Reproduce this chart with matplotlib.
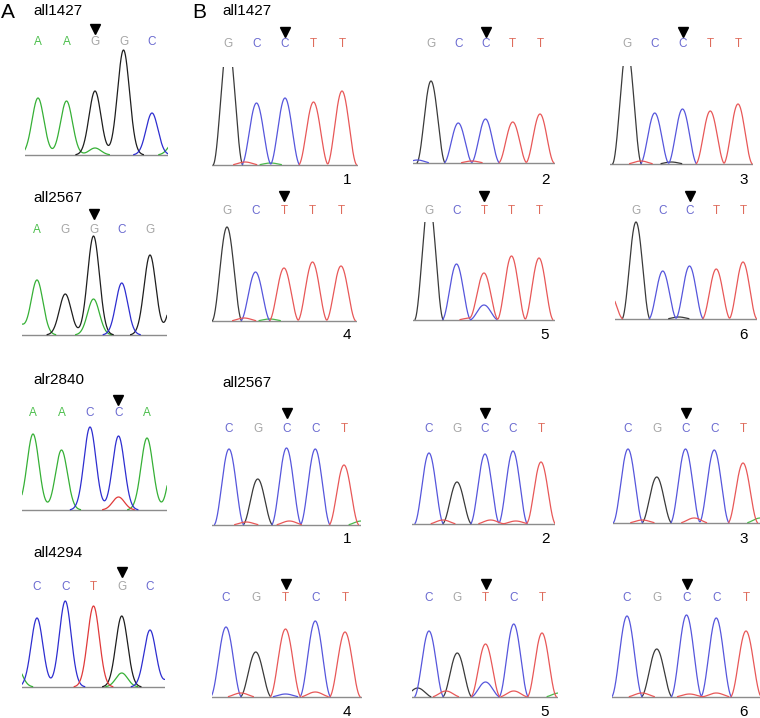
import numpy as np
import matplotlib
matplotlib.use("Agg")
import matplotlib.pyplot as plt
from matplotlib.transforms import blended_transform_factory

plt.rcParams['font.family'] = ['Liberation Sans', 'DejaVu Sans']

W, H = 760, 718

# colours of the traces and of the base letters
a_trace_col = {"A": "#36b036", "C": "#2e2ed0", "G": "#1e1e1e", "T": "#e03a3a"}
b_trace_col = {"A": "#4cb84c", "C": "#5656dc", "G": "#3a3a3a", "T": "#e85858"}
letter_col = {"A": "#4cbf4c", "C": "#6a6ad0", "G": "#a6a6a6", "T": "#de6c5c"}

# ---- panel A : wild type reads ----
a_genes = ["all1427", "all2567", "alr2840", "all4294"]
a_seqs = ["AAGGC", "AGGCG", "AACCA", "CCTGC"]
a_heights = [[57, 54, 64, 105, 42],
             [55, 41, 99, 52, 80],
             [76, 60, 83, 74, 72],
             [69, 86, 81, 71, 57]]
# small extra peaks (position, base, height)
a_minor = [[(2, "A", 7), (4.8, "A", 14)],
           [(2, "A", 36), (-0.7, "A", 12), (4.9, "G", 50)],
           [(3, "T", 13), (5, "A", 65), (-0.8, "A", 10)],
           [(3, "A", 14), (-0.75, "A", 22), (4.8, "C", 12)]]
a_snp = [2, 2, 3, 3]

# ---- panel B : the six samples ----
b_genes = ["all1427", "all2567"]
b_samples = ["1", "2", "3", "4", "5", "6"]

b1427_seqs = ["GCCTT", "GCCTT", "GCCTT", "GCTTT", "GCTTT", "GCCTT"]
b1427_heights = [[125, 62, 67, 63, 74],
                 [82, 40, 44, 41, 49],
                 [117, 51, 55, 53, 60],
                 [94, 49, 53, 59, 55],
                 [120, 56, 47, 64, 62],
                 [97, 48, 53, 50, 57]]
b1427_minor = [[(0.6, "T", 3), (1.5, "A", 2)],
               [(-0.5, "C", 3), (1.5, "T", 2)],
               [(0.5, "T", 3), (1.6, "G", 2)],
               [(0.6, "T", 3), (1.5, "A", 2)],
               [(2, "C", 15), (1.5, "T", 2)],
               [(-1, "T", 27), (1.6, "G", 2)]]

b2567_seqs = ["CGCCT", "CGCCT", "CGCCT", "CGTCT", "CGTCT", "CGCCT"]
b2567_heights = [[76, 46, 77, 76, 60],
                 [71, 42, 70, 73, 62],
                 [74, 46, 74, 73, 60],
                 [70, 45, 68, 76, 65],
                 [66, 44, 53, 73, 64],
                 [81, 48, 82, 79, 66]]
b2567_minor = [[(0.6, "T", 3), (2.1, "T", 4), (4.6, "A", 4)],
               [(0.5, "T", 4), (2.2, "T", 4), (3.1, "T", 3)],
               [(0.5, "T", 3), (2.3, "T", 5), (4.6, "A", 5)],
               [(0.5, "T", 4), (2.0, "C", 3), (3.0, "T", 5)],
               [(2, "C", 15), (-0.4, "G", 9), (0.6, "T", 6), (3, "T", 6), (4.6, "A", 4)],
               [(0.5, "T", 4), (2.1, "T", 3), (3.0, "T", 4)]]
b_snp = 2

fig = plt.figure(figsize=(W / 100, H / 100), dpi=100)


def fx(x):
    return x / W


def fy(y):
    return 1 - y / H


def peak(t, p, h, width, kind):
    # gaussian for panel A, raised cosine (touches the baseline) for panel B
    if kind == "gauss":
        return h * np.exp(-(t - p) ** 2 / (2 * width ** 2))
    d = np.abs(t - p)
    return np.where(d < width, h * np.cos(np.pi * d / (2 * width)) ** 2, 0.0)


def chromatogram(x_left, x_right, x0, x4, base, top_h, seq, heights, minor,
                 width, kind, cols, letter_y, arrow_y, snp):
    step = (x4 - x0) / 4
    ax = fig.add_axes([fx(x_left), fy(base + 2), fx(x_right - x_left), (top_h + 2) / H])
    lo = (x_left - x0) / step
    hi = (x_right - x0) / step
    t = np.linspace(lo, hi, 800)
    peaks = [(i, b, h) for i, (b, h) in enumerate(zip(seq, heights))] + list(minor)
    ax.plot([lo, hi], [0, 0], color="#8c8c8c", lw=1.0)
    for b in "AGCT":
        y = np.zeros_like(t)
        for p, bb, h in peaks:
            if bb == b:
                y += peak(t, p, h, width, kind)
        if y.max() == 0:
            continue
        y[y < 0.4] = np.nan
        ax.plot(t, y, color=cols[b], lw=0.9)
    ax.set_xlim(lo, hi)
    ax.set_ylim(-2, top_h)
    ax.axis('off')
    tr = blended_transform_factory(ax.transData, fig.transFigure)
    for i, b in enumerate(seq):
        ax.text(i, fy(letter_y), b, transform=tr, ha='center', va='center',
                color=letter_col[b], fontsize=8.5)
    ax.plot(snp, fy(arrow_y), marker='v', color='k', ms=7, transform=tr, clip_on=False)
    return ax


# panel A layout
a_left = [25, 22, 22, 22]
a_right = [168, 167, 167, 165]
a_x0 = [38, 37, 33, 37]
a_x4 = [152, 150, 147, 150]
a_base = [155, 335, 510, 687]
a_letter_y = [42, 230, 413, 587]
a_arrow_y = [29, 214, 400, 572]
a_label_y = [11, 198, 380, 553]

for k in range(4):
    chromatogram(a_left[k], a_right[k], a_x0[k], a_x4[k], a_base[k], 112,
                 a_seqs[k], a_heights[k], a_minor[k], 0.21, "gauss", a_trace_col,
                 a_letter_y[k], a_arrow_y[k], a_snp[k])
    fig.text(fx(33), fy(a_label_y[k]), a_genes[k], fontsize=11, va='center', ha='left')

# panel B layout (4 rows x 3 columns)
b_left = [[212, 413, 610], [212, 413, 615], [212, 412, 613], [212, 412, 612]]
b_right = [[358, 555, 753], [357, 555, 757], [361, 555, 760], [362, 558, 760]]
b_x0 = [[228, 431, 627], [227, 429, 636], [229, 429, 628], [226, 429, 627]]
b_x4 = [[342, 540, 738], [341, 539, 743], [344, 541, 743], [345, 542, 746]]
b_base = [[165, 163, 164], [321, 320, 319], [525, 524, 523], [697, 697, 697]]
b_letter_y = [44, 211, 429, 598]
b_arrow_y = [32, 196, 413, 584]
b_num_y = [180, 335, 539, 712]
b_num_x = [347, 545, 744]

for r in range(4):
    if r < 2:
        seqs, heights, minor = b1427_seqs, b1427_heights, b1427_minor
    else:
        seqs, heights, minor = b2567_seqs, b2567_heights, b2567_minor
    for c in range(3):
        s = (r % 2) * 3 + c
        chromatogram(b_left[r][c], b_right[r][c], b_x0[r][c], b_x4[r][c], b_base[r][c], 98,
                     seqs[s], heights[s], minor[s], 0.53, "cos", b_trace_col,
                     b_letter_y[r], b_arrow_y[r], b_snp)
        fig.text(fx(b_num_x[c]), fy(b_num_y[r]), b_samples[s], fontsize=11,
                 ha='center', va='center')

fig.text(fx(222), fy(11), b_genes[0], fontsize=11, va='center', ha='left')
fig.text(fx(222), fy(383), b_genes[1], fontsize=11, va='center', ha='left')

# panel letters
fig.text(fx(1), fy(13), "A", fontsize=15, va='center', ha='left')
fig.text(fx(192), fy(13), "B", fontsize=15, va='center', ha='left')

fig.savefig("out.png", dpi=100)
